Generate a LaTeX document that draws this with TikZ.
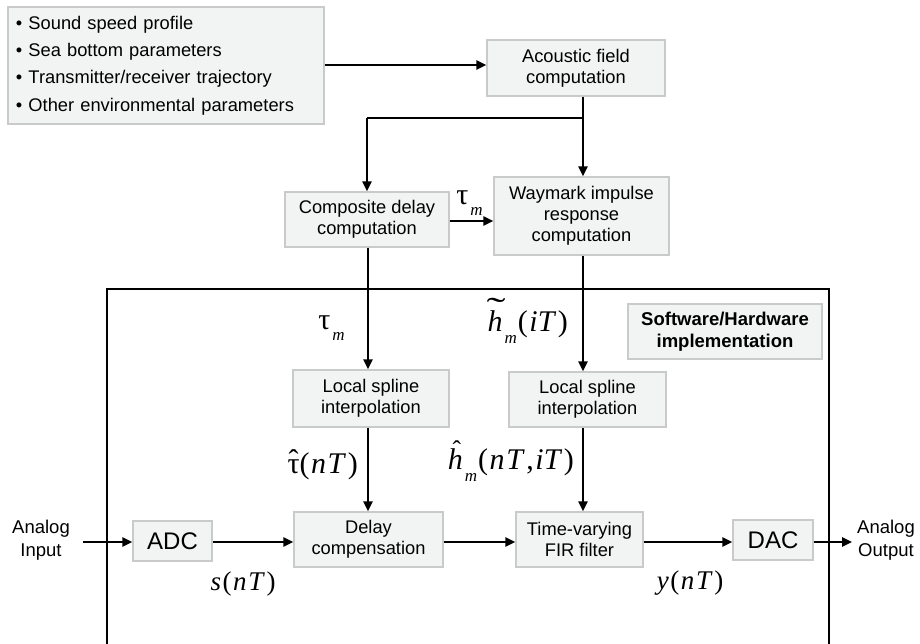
\documentclass[tikz,border=0pt]{standalone}
\usepackage{fontspec}
\setmainfont{Liberation Sans}
\newfontfamily\ms{Liberation Serif}
\usetikzlibrary{arrows.meta}
\definecolor{boxfill}{HTML}{F2F4F3}
\definecolor{boxline}{HTML}{C9CBCA}
\newcommand\sbm{\kern2pt\raisebox{-0.38em}{\fontsize{17}{17}\selectfont\ms\itshape m}\kern1pt}
\newcommand\kk{\kern1.6pt}
\newcommand\tilh{\ooalign{\ms\itshape h\cr\hidewidth\kern2pt\raisebox{0.36em}{\scalebox{1.9}[1.1]{\ms\upshape\char"02DC}}\hidewidth\cr}}
\newcommand\hath{\ooalign{\ms\itshape h\cr\hidewidth\kern3pt\raisebox{0.36em}{\scalebox{0.85}{\ms\upshape\char"02C6}}\hidewidth\cr}}
\newcommand\hattau{\ooalign{\ms τ\cr\hidewidth\raisebox{0.08em}{\ms\char"02C6}\hidewidth\cr}}
\begin{document}
\begin{tikzpicture}[x=1pt,y=-1pt,
  blk/.style={draw=boxline, line width=1.3pt, fill=boxfill, inner sep=0pt, align=center,
    font=\fontsize{18.3}{21}\selectfont},
  big/.style={blk, font=\fontsize{24}{26}\selectfont},
  lab/.style={inner sep=0pt, font=\fontsize{30}{32}\selectfont\ms},
  labs/.style={inner sep=0pt, font=\fontsize{27}{30}\selectfont\ms},
  side/.style={inner sep=0pt, align=center, font=\fontsize{18.5}{23}\selectfont},
  conn/.style={line width=2.4pt, -{Triangle[length=10pt,width=9pt]}},
  plain/.style={line width=2.4pt}]
\useasboundingbox (0,0) rectangle (920,644);
% implementation frame
\draw[line width=1.2pt] (107,648) -- (107,289) -- (829,289) -- (829,648);
% boxes
\node[blk, minimum width=316pt, minimum height=117pt, text width=300pt, align=left,
  font=\fontsize{18.3}{27.2}\selectfont] (list) at (166,65.5)
  {• Sound speed profile\\ • Sea bottom parameters\\ • Transmitter/receiver trajectory\\ • Other environmental parameters};
\node[blk, minimum width=178pt, minimum height=56pt] (acf) at (576,68) {Acoustic field\\computation};
\node[blk, minimum width=164pt, minimum height=55pt] (comp) at (367,219.5) {Composite delay\\computation};
\node[blk, minimum width=175pt, minimum height=78pt] (wm) at (581.5,216) {Waymark impulse\\response\\computation};
\node[blk, minimum width=156pt, minimum height=57pt] (ls1) at (371,398.5) {Local spline\\interpolation};
\node[blk, minimum width=157pt, minimum height=55pt] (ls2) at (587.5,399.5) {Local spline\\interpolation};
\node[blk, minimum width=194pt, minimum height=55pt, font=\fontsize{18.5}{22}\selectfont\bfseries] (sw) at (725,331.5) {Software/Hardware\\implementation};
\node[big, minimum width=79pt, minimum height=40pt] (adc) at (172.5,541) {ADC};
\node[blk, minimum width=149pt, minimum height=55pt] (dly) at (368.5,539.5) {Delay\\compensation};
\node[blk, minimum width=127pt, minimum height=55pt] (fir) at (579.5,539.5) {Time-varying\\FIR filter};
\node[big, minimum width=80pt, minimum height=40pt] (dac) at (773,540) {DAC};
\node[side] (ain) at (41,540) {Analog\\Input};
\node[side] (aout) at (886,540) {Analog\\Output};
% column coordinates
\coordinate (colL) at (368,0);
\coordinate (colR) at (583,0);
\coordinate (br) at (583,118);
\coordinate (inS) at (83,542);
\coordinate (outE) at (852,542);
% connectors
\draw[conn] (list.east |- 0,65) -- (acf.west |- 0,65);
\draw[conn] (acf.south -| colR) -- (wm.north -| colR);
\draw[plain] (br) -- (br -| comp.north);
\draw[conn] (br -| comp.north) -- (comp.north);
\draw[conn] (comp.east |- 0,221) -- (wm.west |- 0,221);
\draw[conn] (comp.south -| colL) -- (ls1.north -| colL);
\draw[conn] (wm.south -| colR) -- (ls2.north -| colR);
\draw[conn] (ls1.south -| colL) -- (dly.north -| colL);
\draw[conn] (ls2.south -| colR) -- (fir.north -| colR);
\draw[conn] (inS) -- (inS -| adc.west);
\draw[conn] (adc.east |- inS) -- (dly.west |- inS);
\draw[conn] (dly.east |- inS) -- (fir.west |- inS);
\draw[conn] (fir.east |- inS) -- (dac.west |- inS);
\draw[conn] (dac.east |- outE) -- (outE);
% math labels
\node[lab] (tm1) at (470,203) {τ\sbm};
\node[lab] (tm2) at (332,328) {τ\sbm};
\node[lab, anchor=east] (ht) at (568,327) {\tilh\sbm(\kk\textit{iT}\kk)};
\node[lab, anchor=east] (tauh) at (358,466) {\hattau(\kk\textit{n}\kk\textit{T}\kk)};
\node[lab, anchor=east] (hh) at (574,465) {\hath\sbm(\kk\textit{n}\kk\textit{T}\kk,\kk\textit{iT}\kk)};
\node[labs] (snt) at (243,584) {\textit{s}\kk(\kk\textit{n}\kk\textit{T}\kk)};
\node[labs] (ynt) at (690,583) {\textit{y}\kk(\kk\textit{n}\kk\textit{T}\kk)};
\end{tikzpicture}
\end{document}
